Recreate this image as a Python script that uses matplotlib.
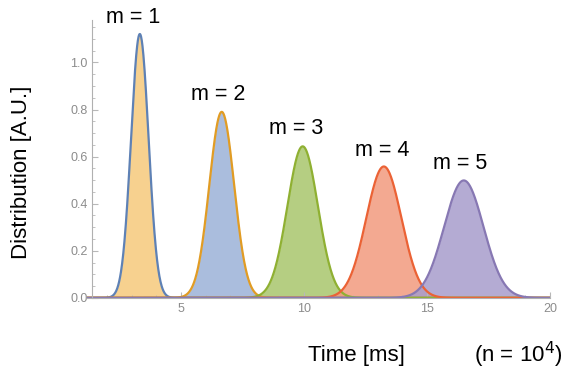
import numpy as np
import matplotlib.pyplot as plt
from matplotlib.ticker import MultipleLocator

plt.rcParams['font.family'] = ['Liberation Sans', 'DejaVu Sans']

# values
m_values = [1, 2, 3, 4, 5]
centers = [3.33, 6.66, 9.95, 13.25, 16.5]     # peak position [ms]
sigmas = [0.356, 0.505, 0.62, 0.715, 0.80]    # peak width [ms]
label_x = [3.05, 6.5, 9.7, 13.2, 16.35]
label_y = [1.19, 0.862, 0.72, 0.626, 0.57]

line_colors = ['#5E81B5', '#E19C24', '#8FB032', '#EB6235', '#8778B3']
fill_colors = ['#F6C97C', '#9BB2D8', '#A8C66C', '#F29A7E', '#A79DCC']

x = np.linspace(1.2, 20, 2000)

fig = plt.figure(figsize=(5.64, 3.78), dpi=100)
ax = fig.add_axes([0.155, 0.212, 0.82, 0.735])

for i, m in enumerate(m_values):
    y = np.exp(-0.5 * ((x - centers[i]) / sigmas[i]) ** 2) / (sigmas[i] * np.sqrt(2 * np.pi))
    ax.fill_between(x, 0, y, color=fill_colors[i], alpha=0.85, lw=0)
for i, m in enumerate(m_values):
    y = np.exp(-0.5 * ((x - centers[i]) / sigmas[i]) ** 2) / (sigmas[i] * np.sqrt(2 * np.pi))
    ax.plot(x, y, color=line_colors[i], lw=1.6)
    ax.text(label_x[i], label_y[i], f'm = {m}', ha='center', va='center', fontsize=15.5)

ax.set_xlim(1.2, 20)
ax.set_ylim(0, 1.18)
ax.spines['top'].set_visible(False)
ax.spines['right'].set_visible(False)
ax.spines['left'].set_color('#B0B0B0')
ax.spines['bottom'].set_color('#B0B0B0')
ax.spines['left'].set_position(('data', 1.4))
ax.xaxis.set_major_locator(MultipleLocator(5))
ax.xaxis.set_minor_locator(MultipleLocator(1))
ax.yaxis.set_major_locator(MultipleLocator(0.2))
ax.yaxis.set_minor_locator(MultipleLocator(0.05))
ax.yaxis.set_major_formatter(plt.FuncFormatter(lambda v, p: f'{v:.1f}'))
ax.tick_params(which='both', direction='in', colors='#B8B8B8', labelcolor='#8C8C8C', labelsize=9)
ax.tick_params(which='major', length=4)
ax.tick_params(which='minor', length=2)
ax.set_xticks([5, 10, 15, 20])

fig.text(0.039, 0.545, 'Distribution [A.U.]', rotation=90, ha='center', va='center', fontsize=16)
fig.text(0.632, 0.06, 'Time [ms]', ha='center', va='center', fontsize=16)
fig.text(0.997, 0.06, '(n = 10$^4$)', ha='right', va='center', fontsize=16)

plt.savefig('out.png', dpi=100)
